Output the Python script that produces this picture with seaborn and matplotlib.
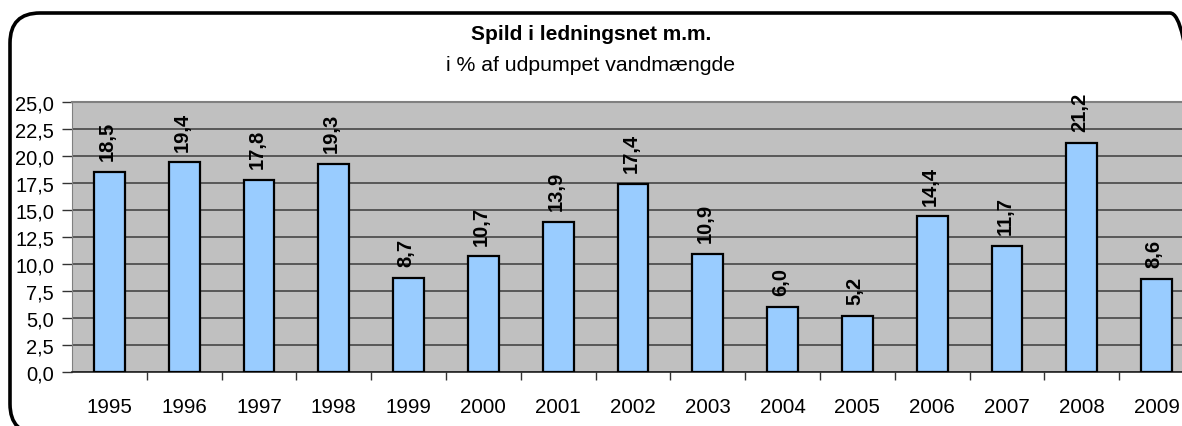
import matplotlib
matplotlib.use("Agg")
import matplotlib.pyplot as plt
from matplotlib.patches import FancyBboxPatch
from matplotlib.transforms import IdentityTransform
import seaborn as sns

# data
years = ["1995", "1996", "1997", "1998", "1999", "2000", "2001", "2002",
         "2003", "2004", "2005", "2006", "2007", "2008", "2009"]
spild = [18.5, 19.4, 17.8, 19.3, 8.7, 10.7, 13.9, 17.4,
         10.9, 6.0, 5.2, 14.4, 11.7, 21.2, 8.6]
yticks = [0, 2.5, 5, 7.5, 10, 12.5, 15, 17.5, 20, 22.5, 25]

title = "Spild i ledningsnet m.m."
subtitle = "i % af udpumpet vandmængde"


def komma(v):
    return f"{v:.1f}".replace(".", ",")


sns.set_style("white")
plt.rcParams["font.family"] = ["Liberation Sans", "DejaVu Sans"]
plt.rcParams["text.color"] = "black"
plt.rcParams["xtick.color"] = "black"
plt.rcParams["ytick.color"] = "black"

fig = plt.figure(figsize=(11.82, 4.27), dpi=100)
ax = fig.add_axes([72 / 1182, 54 / 427, 1122 / 1182, 270 / 427])
ax.set_facecolor("#C0C0C0")

sns.barplot(x=years, y=spild, color="#99CCFF", edgecolor="black",
            linewidth=1.6, width=0.41, saturation=1, ax=ax, zorder=3)

# value labels, rotated like in excel
for i, v in enumerate(spild):
    ax.text(i - 0.03, v + 1.1, komma(v), rotation=90, ha="center", va="bottom",
            fontsize=14.5, fontweight="bold", color="black", zorder=4)

ax.set_xlim(-0.5, len(years) - 0.5)
ax.set_ylim(0, 25)
ax.set_yticks(yticks)
ax.set_yticklabels([komma(t) for t in yticks], fontsize=14.5)
ax.yaxis.grid(True, color="#3c3c3c", linewidth=1.1, zorder=0)
ax.set_axisbelow(True)

# category ticks between bars, labels centered
ax.set_xticks(range(len(years)))
ax.set_xticklabels(years, fontsize=14.8)
ax.set_xticks([i + 0.5 for i in range(len(years))], minor=True)
ax.tick_params(axis="x", which="major", length=0, pad=18)
ax.tick_params(axis="x", which="minor", length=6, width=1, color="#333333",
               direction="out", bottom=True)
ax.tick_params(axis="y", length=7, width=1, color="#333333", direction="out",
               left=True, pad=6)

ax.spines["right"].set_visible(False)
ax.spines["top"].set_color("#808080")
ax.spines["top"].set_linewidth(1.5)
ax.spines["left"].set_color("#808080")
ax.spines["bottom"].set_color("#222222")
ax.spines["bottom"].set_linewidth(1.2)

fig.text(0.5, 1 - 35 / 427, title, ha="center", va="center",
         fontsize=15, fontweight="bold")
fig.text(0.5, 1 - 66 / 427, subtitle, ha="center", va="center", fontsize=15.3)

# rounded chart border in pixels, right and bottom edges run off the picture
border = FancyBboxPatch((10, -8), 1190, 421,
                        boxstyle="round,pad=0,rounding_size=30",
                        transform=IdentityTransform(), fill=False,
                        edgecolor="black", linewidth=2.6, zorder=10)
fig.patches.append(border)

fig.savefig("out.png", dpi=100)
